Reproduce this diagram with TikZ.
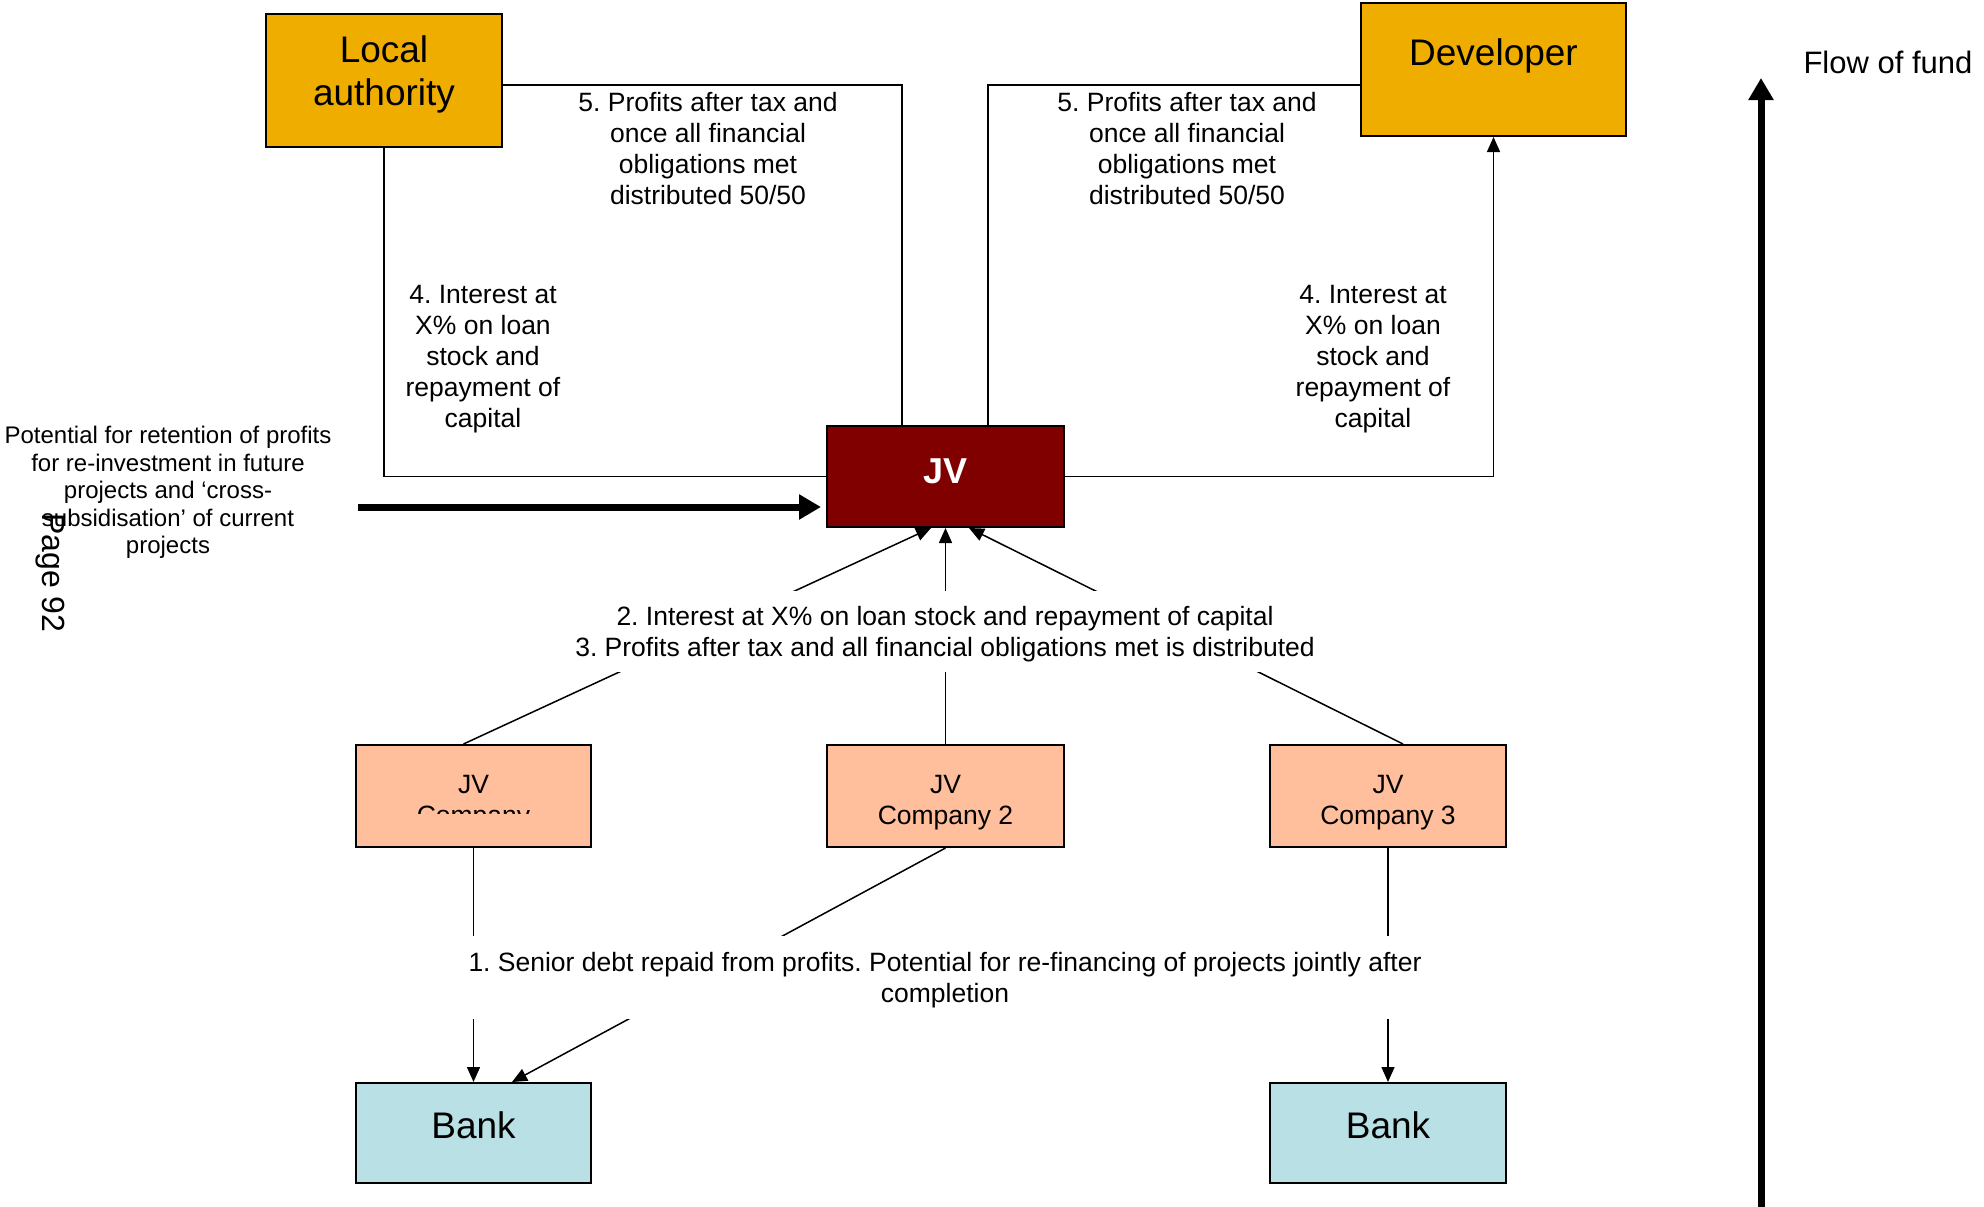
\documentclass[tikz,border=0pt]{standalone}
\usepackage{fontspec}
\setmainfont{Liberation Sans}
\usetikzlibrary{arrows.meta}
\definecolor{orangebox}{RGB}{239,173,0}
\definecolor{jvred}{RGB}{128,0,0}
\definecolor{peach}{RGB}{255,190,156}
\definecolor{bankblue}{RGB}{185,224,228}
\frenchspacing
\begin{document}
\begin{tikzpicture}[x=1pt,y=-1pt,
  box/.style={draw=black,line width=2pt,inner sep=0pt},
  big/.style={font=\fontsize{37}{43}\selectfont,align=center},
  lab/.style={font=\fontsize{26.5}{31}\selectfont,align=center},
  conn/.style={line width=1.5pt},
  arr/.style={conn,-{Triangle[length=15pt,width=13pt]}},
  fat/.style={line width=7pt,-{Triangle[length=22pt,width=24pt]}},
  gap/.style={fill=white,inner sep=0pt}
]
\useasboundingbox (0,0) rectangle (1984,1207);
% boxes
\node[box,fill=orangebox,minimum width=236pt,minimum height=133pt] (la) at (384,80.5) {};
\node[box,fill=orangebox,minimum width=265pt,minimum height=133pt] (dev) at (1493.5,69.5) {};
\node[box,fill=jvred,minimum width=237pt,minimum height=101pt] (jv) at (945.5,476.5) {};
\node[box,fill=peach,minimum width=235pt,minimum height=102pt] (co1) at (473.5,796) {};
\node[box,fill=peach,minimum width=237pt,minimum height=102pt] (co2) at (945.5,796) {};
\node[box,fill=peach,minimum width=236pt,minimum height=102pt] (co3) at (1388,796) {};
\node[box,fill=bankblue,minimum width=235pt,minimum height=100pt] (bank1) at (473.5,1133) {};
\node[box,fill=bankblue,minimum width=236pt,minimum height=100pt] (bank2) at (1388,1133) {};
% box texts
\node[big] (latxt) at (384,74.5) {Local\\authority};
\node[big] (devtxt) at (1493.5,56) {Developer};
\node[font=\fontsize{36}{42}\selectfont\bfseries,text=white] (jvtxt) at (945.5,471) {JV};
\begin{scope}
\clip (357,746) rectangle (590,813);
\node[lab] (co1txt) at (473.5,803) {JV\\Company};
\end{scope}
\node[lab] (co2txt) at (945.5,803) {JV\\Company 2};
\node[lab] (co3txt) at (1388,803) {JV\\Company 3};
\node[big] (b1txt) at (473.5,1125.5) {Bank};
\node[big] (b2txt) at (1388,1125.5) {Bank};
% connectors
\draw[conn] (la.south) |- (jv.west);
\draw[conn] ([yshift=-4.5pt]la.east) -| ([xshift=-43.5pt]jv.north);
\draw[conn] ([xshift=42.5pt]jv.north) |- ([yshift=-15.5pt]dev.west);
\draw[arr] (jv.east) -| (dev.south);
\draw[arr] ([xshift=-10pt]co1.north) -- ([xshift=-14.5pt]jv.south);
\draw[arr] (co2.north) -- (jv.south);
\draw[arr] ([xshift=15pt]co3.north) -- ([xshift=23.5pt]jv.south);
\draw[arr] (co1.south) -- (bank1.north);
\draw[arr] (co2.south) -- ([xshift=38.5pt]bank1.north);
\draw[arr] (co3.south) -- (bank2.north);
% thick arrows
\coordinate (fatstart) at (358,507);
\draw[fat,shorten >=5pt] (fatstart) -- (fatstart -| jv.west);
\coordinate (fb) at (1761,1207);
\coordinate (ft) at (1761,78);
\draw[fat] (fb) -- (ft);
% labels
\node[lab] (l5a) at (708,148.5) {5. Profits after tax and\\once all financial\\obligations met\\distributed 50/50};
\node[lab] (l5b) at (1187,148.5) {5. Profits after tax and\\once all financial\\obligations met\\distributed 50/50};
\node[lab] (l4a) at (483,359) {4. Interest at\\X\% on loan\\stock and\\repayment of\\capital};
\node[lab] (l4b) at (1373,359) {4. Interest at\\X\% on loan\\stock and\\repayment of\\capital};
\node[gap,minimum width=760pt,minimum height=81pt] (midbg) at (945,631.5) {};
\node[lab] (mid) at (945,634) {2. Interest at X\% on loan stock and repayment of capital\\3. Profits after tax and all financial obligations met is distributed};
\node[gap,minimum width=975pt,minimum height=83pt] (seniorbg) at (945,977.5) {};
\node[lab] (senior) at (945,980.5) {1. Senior debt repaid from profits. Potential for re-financing of projects jointly after\\completion};
\node[font=\fontsize{24}{27.5}\selectfont,align=center] (pot) at (168,492.5) {Potential for retention of profits\\for re-investment in future\\projects and ‘cross-\\subsidisation’ of current\\projects};
\node[rotate=-90,font=\fontsize{32}{38}\selectfont] (pg) at (50,573) {Page 92};
\node[anchor=west,font=\fontsize{31}{36}\selectfont] (flow) at (1800,62) {Flow of fund};
\end{tikzpicture}
\end{document}
